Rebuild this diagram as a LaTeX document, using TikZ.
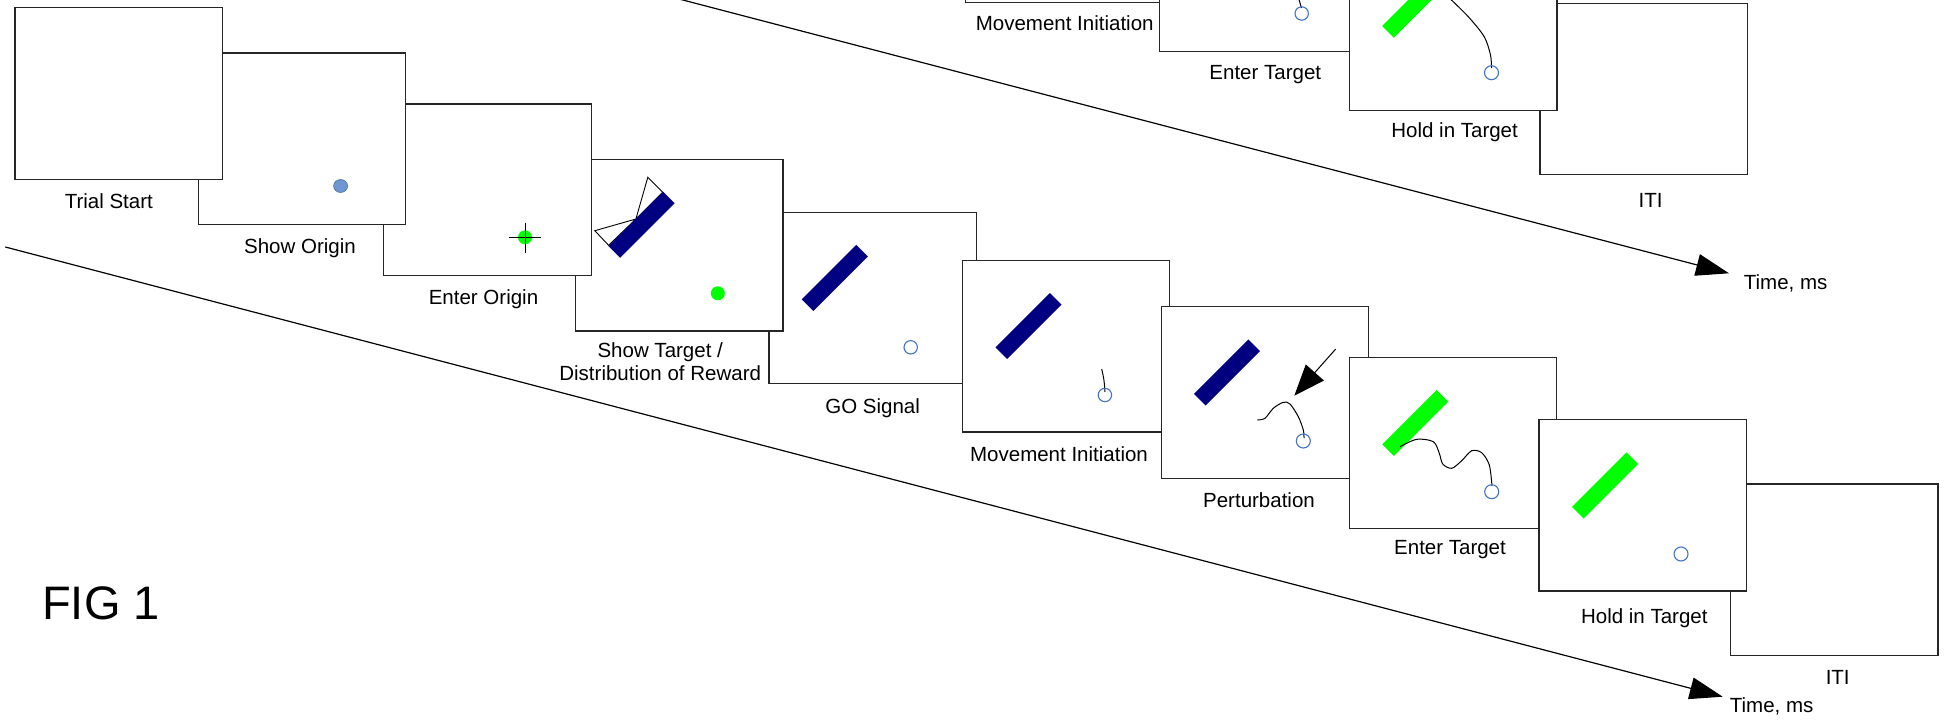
\documentclass[tikz,border=0pt]{standalone}
\usepackage{fontspec}
\setmainfont{Liberation Sans}
\usetikzlibrary{positioning, arrows.meta}
\definecolor{barnavy}{RGB}{0,0,128}
\definecolor{barlime}{RGB}{0,255,0}
\definecolor{cursorblue}{RGB}{68,114,196}
\definecolor{origindot}{RGB}{110,150,210}

\begin{document}
\begin{tikzpicture}[x = 1pt, y = -1pt, node distance = 13.5pt,
    panel/.style = { draw = black!85, fill = white, line width = 1.4pt, inner sep = 0pt,
                     minimum width = 207.5pt, minimum height = 171.5pt },
    stagename/.style = { font = \fontsize{20.5}{22.6}\selectfont, inner sep = 0pt,
                         text height = 15pt, text depth = 0pt },
    targetbar/.style = { fill = #1, inner sep = 0pt, minimum width = 77pt,
                         minimum height = 16.5pt, rotate = 45 },
    reward/.style = { draw = black, fill = white, line width = 0.9pt },
    cursor/.style = { draw = cursorblue, line width = 1.1pt },
    trace/.style = { draw = black, line width = 1pt },
    timeline/.style = { line width = 1.2pt, -{Triangle[length = 33pt, width = 22pt]} }]
  \useasboundingbox (0,0) rectangle (1947,720);
  \clip (0,0) rectangle (1947,720);

  \node[panel] (go) at (872.6,298) {};
  \node[targetbar = barnavy] at (834.8,278) {};
  \draw[cursor] (910.7,347.3) circle[radius = 6.7pt];

  \node[panel] (st) at (679.2,245.3) {};
  \draw[reward] (608.6,245.3) -- (594.8,230.7) -- (635.9,219) -- cycle;
  \draw[reward] (635.9,219) -- (647.8,177.3) -- (662.8,192.3) -- cycle;
  \node[targetbar = barnavy] at (641.5,224.7) {};
  \fill[barlime] (717.8,293.3) circle[radius = 7pt];

  \node[panel] (eo) at (487.5,189.7) {};
  \fill[barlime] (525,237.3) circle[radius = 7pt];
  \draw[line width = 1pt] (509.3,237.3) -- (540.7,237.3) (525,222.5) -- (525,252.5);

  \node[panel] (so) at (302,138.7) {};
  \filldraw[fill = origindot, draw = origindot!75!black, line width = 0.6pt]
    (340.6,186) circle[x radius = 7pt, y radius = 6.5pt];

  \node[panel] (ts) at (118.8,93.5) {};

  \node[panel] (mi) at (1066,346.2) {};
  \node[targetbar = barnavy] at (1028.5,326) {};
  \draw[trace] (1101.7,369) .. controls (1104,379) .. (1105,392);
  \draw[cursor] (1104.9,395) circle[radius = 6.7pt];

  \node[panel] (pe) at (1265,392.5) {};
  \node[targetbar = barnavy] at (1227,372.5) {};
  \draw[trace] plot[smooth] coordinates {(1257.3,420) (1265,418.3) (1273.3,408.3) (1283.3,402.3)
    (1290,404) (1298.3,416.7) (1303.3,430) (1304,438)};
  \draw[cursor] (1303.3,441) circle[radius = 7pt];
  \coordinate (push) at (1335.7,349);
  \coordinate (hit) at (1294.3,395.7);
  \draw[line width = 1pt, -{Triangle[length = 31pt, width = 24pt]}] (push) -- (hit);

  \node[panel] (et) at (1453,443) {};
  \node[targetbar = barlime] at (1415.2,423) {};
  \draw[trace] plot[smooth] coordinates {(1400,446.7) (1416.7,439.3) (1433.3,441.7) (1439.3,453.3)
    (1442.7,464) (1451.7,468.3) (1461.7,460.7) (1471.7,450.7) (1481.7,452.7) (1489.3,465) (1492,486)};
  \draw[cursor] (1491.7,491.7) circle[radius = 7pt];

  \node[panel] (iti) at (1834.3,569.7) {};
  \node[panel] (ht) at (1642.8,505.3) {};
  \node[targetbar = barlime] at (1605,485.4) {};
  \draw[cursor] (1681,554) circle[radius = 7pt];

  \node[panel] (mi2) at (1069.3,-83.1) {};
  \node[panel] (et2) at (1263,-34.1) {};
  \draw[trace] (1298.5,-2) -- (1301.5,8);
  \draw[cursor] (1301.7,13.5) circle[radius = 6.7pt];
  \node[panel] (iti2) at (1643.8,89) {};
  \node[panel] (ht2) at (1453.2,24.9) {};
  \node[targetbar = barlime] at (1415.2,4.7) {};
  \draw[trace] plot[smooth] coordinates {(1449.3,-2) (1468.3,16.7) (1484.2,36.7) (1490.5,55) (1491.5,68)};
  \draw[cursor] (1491.5,72.7) circle[radius = 7pt];

  \node[stagename, below = of ts, xshift = -10pt] {Trial Start};
  \node[stagename, below = of so, xshift = -2pt] {Show Origin};
  \node[stagename, below = of eo, xshift = -4pt] {Enter Origin};
  \node[font = \fontsize{20.5}{22.6}\selectfont, inner sep = 0pt, align = center,
        below = 11pt of st, xshift = -19pt] {Show Target /\\Distribution of Reward};
  \node[stagename, below = of go] {GO Signal};
  \node[stagename, below = of mi, xshift = -7pt] {Movement Initiation};
  \node[stagename, below = of pe, xshift = -6pt] {Perturbation};
  \node[stagename, below = 10pt of et, xshift = -3pt] {Enter Target};
  \node[stagename, below = 17pt of ht, xshift = 1.5pt] {Hold in Target};
  \node[stagename, below = of iti, xshift = 3.4pt] {ITI};
  \node[stagename, below = 12.3pt of mi2, xshift = -4.6pt] {Movement Initiation};
  \node[stagename, below = 11.5pt of et2, xshift = 2.3pt] {Enter Target};
  \node[stagename, below = 11.3pt of ht2, xshift = 1.4pt] {Hold in Target};
  \node[stagename, below = 16.7pt of iti2, xshift = 6.7pt] {ITI};

  \coordinate (t0) at (5.3,247);
  \coordinate (t1) at (1722.7,696.7);
  \draw[timeline] (t0) -- (t1);
  \node[stagename, right = 7pt of t1, yshift = -8.3pt] {Time, ms};
  \coordinate (t2) at (679,-1);
  \coordinate (t3) at (1729,273.3);
  \draw[timeline] (t2) -- (t3);
  \node[stagename, right = 14.7pt of t3, yshift = -8.4pt] {Time, ms};

  \node[font = \fontsize{47}{50}\selectfont, inner sep = 0pt, text height = 34pt, text depth = 0pt]
    (fig) at (101,602.5) {FIG 1};
\end{tikzpicture}
\end{document}
